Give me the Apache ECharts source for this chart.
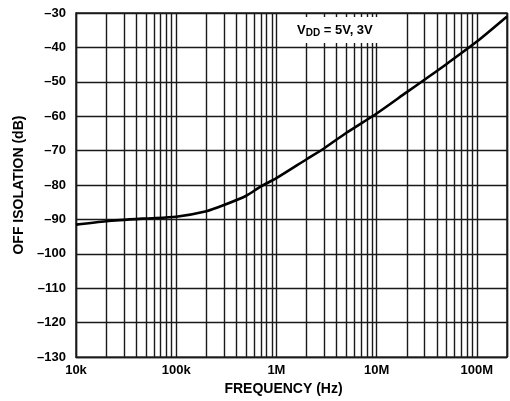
<!DOCTYPE html>
<html>
<head>
<meta charset="utf-8">
<script src="https://cdn.jsdelivr.net/npm/echarts@6/dist/echarts.min.js"></script>
<style>
  html, body { margin: 0; padding: 0; background: #fff; }
  #main { width: 510px; height: 401px; }
</style>
</head>
<body>
<div id="main"></div>
<script>
// frequency (Hz) and off isolation (dB)
const freqs = [1e4, 2e4, 5e4, 1e5, 2e5, 3e5, 5e5, 7e5, 1e6, 2e6, 3e6, 5e6, 1e7, 2e7, 3e7, 5e7, 1e8, 2e8];
const isolation = [-91.5, -90.5, -89.7, -89.2, -87.6, -85.8, -83.1, -80.4, -78.0, -72.5, -69.3, -64.8, -59.2, -53.0, -49.4, -44.8, -38.3, -31.0];

const decades = [1e4, 1e5, 1e6, 1e7, 1e8];
const decadeLabels = ['10k', '100k', '1M', '10M', '100M'];
const minorSteps = [2, 3, 4, 5, 6, 7, 8, 9];

// minor vertical grid lines at 2..9 of each decade, up to 200M
let minorLines = [];
decades.forEach(function (d) {
  minorSteps.forEach(function (m) {
    if (d * m <= 2e8) minorLines.push({ xAxis: d * m });
  });
});

const font = '"Liberation Sans", Arial, sans-serif';
const gridColor = '#1a1a1a';

var myChart = echarts.init(document.getElementById('main'));

let option = {
  animation: false,
  grid: {
    left: 76, right: 2, top: 13, bottom: 41,
    show: true, borderColor: gridColor, borderWidth: 1.4
  },
  xAxis: {
    type: 'log',
    logBase: 10,
    min: 1e4,
    max: 2e8,
    name: 'FREQUENCY (Hz)',
    nameLocation: 'middle',
    nameGap: 23,
    nameTextStyle: { fontFamily: font, fontWeight: 'bold', fontSize: 14, color: '#000', padding: [0, 16, 0, 0] },
    axisLine: { show: true, lineStyle: { color: gridColor, width: 1.4 } },
    axisTick: { show: false },
    axisLabel: {
      fontFamily: font, fontWeight: 'bold', fontSize: 13, color: '#000', margin: 7,
      formatter: function (v) {
        let i = decades.indexOf(Math.round(v));
        return i >= 0 ? decadeLabels[i] : '';
      }
    },
    splitLine: { show: true, lineStyle: { color: gridColor, width: 1.4 } }
  },
  yAxis: {
    type: 'value',
    min: -130,
    max: -30,
    interval: 10,
    name: 'OFF ISOLATION (dB)',
    nameLocation: 'middle',
    nameGap: 48,
    nameTextStyle: { fontFamily: font, fontWeight: 'bold', fontSize: 14, color: '#000' },
    axisLine: { show: true, lineStyle: { color: gridColor, width: 1.4 } },
    axisTick: { show: false },
    axisLabel: {
      fontFamily: font, fontWeight: 'bold', fontSize: 13, color: '#000', margin: 10,
      formatter: function (v) { return String(v).replace('-', '\u2013'); }
    },
    splitLine: { show: true, lineStyle: { color: gridColor, width: 1.4 } }
  },
  series: [{
    name: 'grid',
    type: 'line',
    data: [],
    z: 1,
    silent: true,
    markLine: {
      silent: true,
      symbol: ['none', 'none'],
      label: { show: false },
      lineStyle: { color: gridColor, width: 1.4, type: 'solid' },
      data: minorLines
    }
  }, {
    name: 'Off isolation',
    type: 'line',
    z: 5,
    smooth: 0.25,
    showSymbol: false,
    lineStyle: { color: '#000', width: 2.6 },
    data: freqs.map(function (f, i) { return [f, isolation[i]]; })
  }],
  graphic: [{
    type: 'text',
    left: 292,
    top: 17,
    z: 10,
    style: {
      text: '{a|V}{b|DD}{a| = 5V, 3V}',
      backgroundColor: '#fff',
      padding: [4, 7, 4, 5],
      rich: {
        a: { fontFamily: font, fontWeight: 'bold', fontSize: 13, fill: '#000', lineHeight: 18 },
        b: { fontFamily: font, fontWeight: 'bold', fontSize: 10, fill: '#000', lineHeight: 18, padding: [7, 0, 0, 0] }
      }
    }
  }]
};

myChart.setOption(option);
</script>
</body>
</html>
